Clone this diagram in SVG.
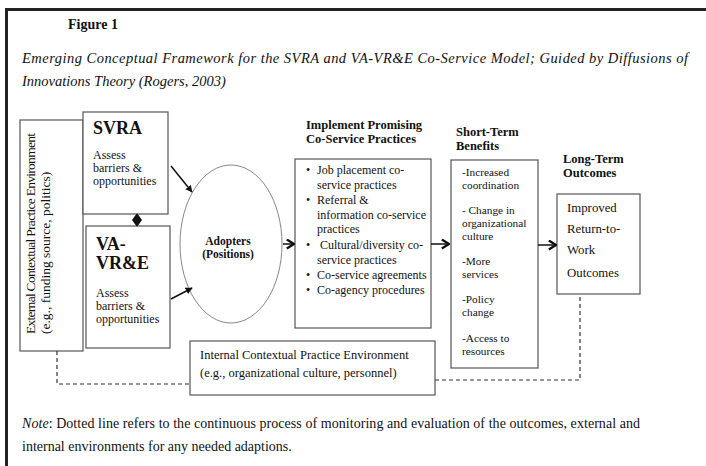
<svg xmlns="http://www.w3.org/2000/svg" width="706" height="466" viewBox="0 0 706 466">
<defs>
<style>
.t{font-family:"Liberation Serif","Times New Roman",serif;fill:#111}
.b{font-weight:bold}
.box{fill:#fff;stroke:#555;stroke-width:1.2}
.s{font-size:12px}
.conn{stroke:#111;stroke-width:1.5;fill:none}
.dash{stroke:#333;stroke-width:1.2;fill:none;stroke-dasharray:4 3}
</style>
<marker id="tri" viewBox="0 0 10 10" refX="9" refY="5" markerWidth="7" markerHeight="7" orient="auto" markerUnits="userSpaceOnUse">
<path d="M0,0 L10,5 L0,10 z" fill="#111"/>
</marker>
<marker id="chev" viewBox="0 0 10 12" refX="9" refY="6" markerWidth="9" markerHeight="11" orient="auto" markerUnits="userSpaceOnUse">
<path d="M1,1 L9,6 L1,11" fill="none" stroke="#111" stroke-width="2.6"/>
</marker>
<marker id="dia" viewBox="0 0 10 10" refX="10" refY="5" markerWidth="7" markerHeight="10" orient="auto-start-reverse" markerUnits="userSpaceOnUse" preserveAspectRatio="none">
<path d="M0,0 L10,5 L0,10 z" fill="#111"/>
</marker>
</defs>
<rect width="706" height="466" fill="#fff"/>
<path d="M5,9.5 H706 M6.5,8 V466" stroke="#222" stroke-width="3" fill="none"/>

<g id="caption">
<text class="t b" x="68" y="29" font-size="14">Figure 1</text>
<text class="t" x="22" y="63" font-size="14.5" font-style="italic" textLength="666" lengthAdjust="spacing">Emerging Conceptual Framework for the SVRA and VA-VR&amp;E Co-Service Model; Guided by Diffusions of</text>
<text class="t" x="22" y="86" font-size="14.5" font-style="italic">Innovations Theory (Rogers, 2003)</text>
</g>

<g id="external">
<rect class="box" x="20" y="120" width="63" height="231"/>
<text class="t" font-size="13.5" transform="translate(35,334) rotate(-90)" textLength="201" lengthAdjust="spacing">External Contextual Practice Environment</text>
<text class="t" font-size="13.5" transform="translate(50,334) rotate(-90)">(e.g., funding source, politics)</text>
</g>

<g id="svra">
<rect class="box" x="83" y="112" width="85" height="102"/>
<text class="t b" x="93" y="134" font-size="18">SVRA</text>
<text class="t s" x="93" y="159">Assess</text>
<text class="t s" x="93" y="172">barriers &amp;</text>
<text class="t s" x="93" y="185">opportunities</text>
</g>

<g id="vavre">
<rect class="box" x="86" y="226" width="84" height="122"/>
<text class="t b" x="96" y="250" font-size="18">VA-</text>
<text class="t b" x="96" y="269" font-size="18">VR&amp;E</text>
<text class="t s" x="96" y="297">Assess</text>
<text class="t s" x="96" y="310">barriers &amp;</text>
<text class="t s" x="96" y="323">opportunities</text>
</g>

<g id="adopters">
<ellipse cx="231" cy="244" rx="51" ry="79" fill="#fff" stroke="#888" stroke-width="1"/>
<text class="t b" x="228" y="245" font-size="11.5" text-anchor="middle">Adopters</text>
<text class="t b" x="228" y="258" font-size="11.5" text-anchor="middle">(Positions)</text>
</g>

<g id="practices">
<text class="t b" x="306" y="129" font-size="12.5">Implement Promising</text>
<text class="t b" x="306" y="143" font-size="12.5">Co-Service Practices</text>
<rect class="box" x="295" y="159" width="136" height="169"/>
<g class="t" font-size="12">
<text x="306" y="174">•</text><text x="317" y="174">Job placement co-</text>
<text x="317" y="189">service practices</text>
<text x="306" y="204">•</text><text x="317" y="204">Referral &amp;</text>
<text x="317" y="219">information co-service</text>
<text x="317" y="233">practices</text>
<text x="306" y="249">•</text><text x="320" y="249">Cultural/diversity co-</text>
<text x="317" y="264">service practices</text>
<text x="306" y="279">•</text><text x="317" y="279">Co-service agreements</text>
<text x="306" y="294">•</text><text x="317" y="294">Co-agency procedures</text>
</g>
</g>

<g id="shortterm">
<text class="t b" x="456" y="136" font-size="12.5">Short-Term</text>
<text class="t b" x="456" y="150" font-size="12.5">Benefits</text>
<rect class="box" x="451" y="160" width="87" height="208"/>
<g class="t" font-size="11.3">
<text x="462" y="176">-Increased</text>
<text x="462" y="189">coordination</text>
<text x="462" y="214">- Change in</text>
<text x="462" y="227">organizational</text>
<text x="462" y="240">culture</text>
<text x="462" y="265">-More</text>
<text x="462" y="278">services</text>
<text x="462" y="303">-Policy</text>
<text x="462" y="316">change</text>
<text x="462" y="342">-Access to</text>
<text x="462" y="355">resources</text>
</g>
</g>

<g id="longterm">
<text class="t b" x="563" y="163" font-size="12.5">Long-Term</text>
<text class="t b" x="563" y="177" font-size="12.5">Outcomes</text>
<rect class="box" x="557" y="194" width="83" height="100"/>
<g class="t" font-size="12.8">
<text x="567" y="212">Improved</text>
<text x="567" y="233">Return-to-</text>
<text x="567" y="254">Work</text>
<text x="567" y="277">Outcomes</text>
</g>
</g>

<g id="internal">
<rect class="box" x="190" y="341" width="245" height="54"/>
<text class="t" x="200" y="359" font-size="12.5">Internal Contextual Practice Environment</text>
<text class="t" x="200" y="377" font-size="12.5">(e.g., organizational culture, personnel)</text>
</g>

<g id="connectors">
<line class="conn" x1="171" y1="166" x2="192" y2="192" marker-end="url(#tri)"/>
<line class="conn" x1="171" y1="299" x2="192" y2="288" marker-end="url(#tri)"/>
<line x1="137" y1="213" x2="137" y2="227" stroke="#fff" stroke-width="0.8" marker-start="url(#dia)" marker-end="url(#dia)"/>
<line class="conn" x1="283" y1="244" x2="294" y2="244" marker-end="url(#chev)"/>
<line class="conn" x1="431" y1="244" x2="449" y2="244" marker-end="url(#chev)"/>
<line class="conn" x1="538" y1="245" x2="556" y2="245" marker-end="url(#chev)"/>
<path class="dash" d="M57,351 V384 H190"/>
<path class="dash" d="M435,380 H580 V294"/>
</g>

<g id="note">
<text class="t" x="22" y="428" font-size="14" textLength="618" lengthAdjust="spacing"><tspan font-style="italic">Note</tspan>: Dotted line refers to the continuous process of monitoring and evaluation of the outcomes, external and</text>
<text class="t" x="22" y="451" font-size="14">internal environments for any needed adaptions.</text>
</g>
</svg>
